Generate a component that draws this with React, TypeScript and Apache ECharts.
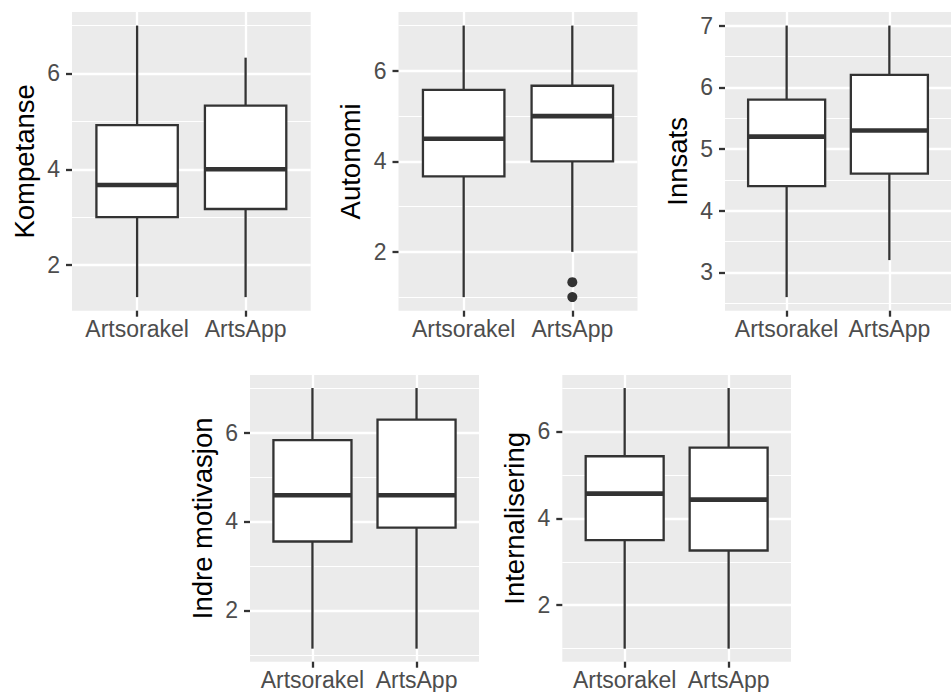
import React, { useEffect, useRef } from 'react';
import * as echarts from 'echarts';

// ---------- data ----------
const categories = ['Artsorakel', 'ArtsApp'];
const measures = ['Kompetanse', 'Autonomi', 'Innsats', 'Indre motivasjon', 'Internalisering'];

// per group: [lower whisker, Q1, median, Q3, upper whisker]
const kompetanse = [
  [1.33, 3.0, 3.67, 4.92, 7.0],
  [1.33, 3.17, 4.0, 5.33, 6.33],
];
const autonomi = [
  [1.0, 3.67, 4.5, 5.58, 7.0],
  [2.0, 4.0, 5.0, 5.67, 7.0],
];
const innsats = [
  [2.6, 4.4, 5.2, 5.8, 7.0],
  [3.2, 4.6, 5.3, 6.2, 7.0],
];
const indreMotivasjon = [
  [1.14, 3.55, 4.59, 5.83, 7.0],
  [1.14, 3.86, 4.59, 6.29, 7.0],
];
const internalisering = [
  [1.0, 3.5, 4.57, 5.43, 7.0],
  [1.0, 3.26, 4.43, 5.63, 7.0],
];

// outliers per group
const kompetanseOutliers = [[], []];
const autonomiOutliers = [[], [1.33, 1.0]];
const innsatsOutliers = [[], []];
const indreOutliers = [[], []];
const internaliseringOutliers = [[], []];

// tick labels
const majorTicksA = [2, 4, 6];
const minorTicksA = [1, 3, 5, 7];
const majorTicksB = [3, 4, 5, 6, 7];
const minorTicksB = [2.5, 3.5, 4.5, 5.5, 6.5];

const stats = [kompetanse, autonomi, innsats, indreMotivasjon, internalisering];
const outliers = [kompetanseOutliers, autonomiOutliers, innsatsOutliers, indreOutliers, internaliseringOutliers];
const majorTicks = [majorTicksA, majorTicksA, majorTicksB, majorTicksA, majorTicksA];
const minorTicks = [minorTicksA, minorTicksA, minorTicksB, minorTicksA, minorTicksA];

// ---------- layout / style ----------
const layout = [
  { left: 72, top: 12, width: 238.7, height: 298.7 },
  { left: 398.5, top: 12, width: 239, height: 298.7 },
  { left: 725, top: 12, width: 238.5, height: 298.7 },
  { left: 250, top: 375, width: 229, height: 286.7 },
  { left: 562.3, top: 375, width: 228.7, height: 286.7 },
];
const FONT = "'Liberation Sans', Arial, Helvetica, sans-serif";
const LW = 2.3;
const DARK = '#333333';

function buildOption() {
  const grid: any[] = [];
  const xAxis: any[] = [];
  const yAxis: any[] = [];
  const series: any[] = [];

  measures.forEach((name, i) => {
    const L = layout[i];
    grid.push({
      left: L.left,
      top: L.top,
      width: L.width,
      height: L.height,
      show: true,
      backgroundColor: '#EBEBEB',
      borderWidth: 0,
      containLabel: false,
    });

    // data range with 5% expansion (ggplot default)
    let lo = Infinity;
    let hi = -Infinity;
    stats[i].forEach((s, g) => {
      lo = Math.min(lo, s[0], ...outliers[i][g]);
      hi = Math.max(hi, s[4], ...outliers[i][g]);
    });
    const pad = (hi - lo) * 0.05;
    const yMin = lo - pad;
    const yMax = hi + pad;

    xAxis.push({
      type: 'value',
      gridIndex: i,
      min: 0.4,
      max: 2.6,
      axisLine: { show: false },
      axisTick: {
        show: true,
        length: 6,
        customValues: [1, 2],
        lineStyle: { color: DARK, width: LW },
      },
      axisLabel: {
        show: true,
        customValues: [1, 2],
        formatter: (v: number) => categories[Math.round(v) - 1] ?? '',
        color: '#4D4D4D',
        fontSize: 23,
        fontFamily: FONT,
        margin: 7,
        hideOverlap: false,
      },
      splitLine: { show: true, lineStyle: { color: '#FFFFFF', width: LW } },
    });

    // major y axis (labels, ticks, major grid)
    yAxis.push({
      type: 'value',
      gridIndex: i,
      min: yMin,
      max: yMax,
      position: 'left',
      name: name,
      nameLocation: 'middle',
      nameGap: 34,
      nameTextStyle: { color: '#000000', fontSize: 27.5, fontFamily: FONT },
      axisLine: { show: false },
      axisTick: {
        show: true,
        length: 6,
        customValues: majorTicks[i],
        lineStyle: { color: DARK, width: LW },
      },
      axisLabel: {
        show: true,
        customValues: majorTicks[i],
        formatter: (v: number) => String(v),
        color: '#4D4D4D',
        fontSize: 23,
        fontFamily: FONT,
        margin: 12,
      },
      splitLine: { show: true, lineStyle: { color: '#FFFFFF', width: LW } },
    });
    // minor y axis (minor grid lines only)
    yAxis.push({
      type: 'value',
      gridIndex: i,
      min: yMin,
      max: yMax,
      position: 'left',
      axisLine: { show: false },
      axisTick: { show: false, customValues: minorTicks[i] },
      axisLabel: { show: false, customValues: minorTicks[i] },
      splitLine: { show: true, lineStyle: { color: '#FFFFFF', width: LW / 2 } },
    });

    const boxData = stats[i].map((s, g) => [g + 1, ...s]);
    series.push({
      type: 'custom',
      xAxisIndex: i,
      yAxisIndex: i * 2,
      encode: { x: 0, y: [1, 2, 3, 4, 5] },
      data: boxData,
      z: 5,
      renderItem: (params: any, api: any) => {
        const x = api.value(0);
        const pLo = api.coord([x, api.value(1)]);
        const pQ1 = api.coord([x, api.value(2)]);
        const pMed = api.coord([x, api.value(3)]);
        const pQ3 = api.coord([x, api.value(4)]);
        const pHi = api.coord([x, api.value(5)]);
        const half = api.size([0.75, 0])[0] / 2;
        return {
          type: 'group',
          children: [
            {
              type: 'line',
              shape: { x1: pLo[0], y1: pLo[1], x2: pQ1[0], y2: pQ1[1] },
              style: { stroke: DARK, lineWidth: LW },
            },
            {
              type: 'line',
              shape: { x1: pQ3[0], y1: pQ3[1], x2: pHi[0], y2: pHi[1] },
              style: { stroke: DARK, lineWidth: LW },
            },
            {
              type: 'rect',
              shape: { x: pQ3[0] - half, y: pQ3[1], width: half * 2, height: pQ1[1] - pQ3[1] },
              style: { fill: '#FFFFFF', stroke: DARK, lineWidth: LW },
            },
            {
              type: 'line',
              shape: { x1: pMed[0] - half, y1: pMed[1], x2: pMed[0] + half, y2: pMed[1] },
              style: { stroke: DARK, lineWidth: LW * 2 },
            },
          ],
        };
      },
    });

    const outData: number[][] = [];
    outliers[i].forEach((arr, g) => arr.forEach((v) => outData.push([g + 1, v])));
    if (outData.length) {
      series.push({
        type: 'scatter',
        xAxisIndex: i,
        yAxisIndex: i * 2,
        data: outData,
        symbol: 'circle',
        symbolSize: 10,
        itemStyle: { color: DARK, opacity: 1 },
        z: 6,
      });
    }
  });

  return {
    animation: false,
    backgroundColor: '#FFFFFF',
    grid,
    xAxis,
    yAxis,
    series,
  };
}

export default function App() {
  const ref = useRef<HTMLDivElement>(null);
  useEffect(() => {
    if (!ref.current) return;
    const chart = echarts.init(ref.current, undefined, { renderer: 'svg' });
    chart.setOption(buildOption() as any);
    return () => chart.dispose();
  }, []);
  return (
    <div
      ref={ref}
      style={{ position: 'fixed', left: 0, top: 0, width: 951, height: 692, background: '#fff' }}
    />
  );
}
